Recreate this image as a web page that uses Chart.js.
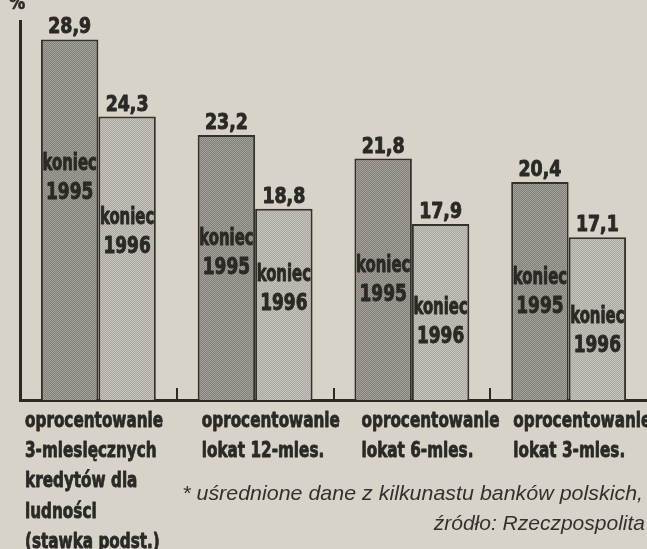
<!DOCTYPE html>
<html>
<head>
<meta charset="utf-8">
<script src="https://cdn.jsdelivr.net/npm/chart.js@4"></script>
<style>
html,body{margin:0;padding:0;background:#d7d3c9;}
#wrap{width:647px;height:549px;}
</style>
</head>
<body>
<div id="wrap"><canvas id="c" width="647" height="549"></canvas></div>
<script>
const categories = [
  ["oprocentowanie","3-miesięcznych","kredytów dla","ludności","(stawka podst.)"],
  ["oprocentowanie","lokat 12-mies."],
  ["oprocentowanie","lokat 6-mies."],
  ["oprocentowanie","lokat 3-mies."]
];
const seriesNames = ["koniec 1995","koniec 1996"];
const values1995 = [28.9, 23.2, 21.8, 20.4];
const values1996 = [24.3, 18.8, 17.9, 17.1];
const unitLabel = "%";
const footnote = ["* uśrednione dane z kilkunastu banków polskich,", "źródło: Rzeczpospolita"];

const COND = "'DejaVu Sans Condensed','Liberation Sans Narrow','DejaVu Sans',sans-serif";
const INK = '#2b2926';

function makePattern(c1, c2){
  const p = document.createElement('canvas');
  p.width = 2; p.height = 2;
  const g = p.getContext('2d');
  g.fillStyle = c1; g.fillRect(0,0,2,2);
  g.fillStyle = c2; g.fillRect(0,0,1,1); g.fillRect(1,1,1,1);
  return g.createPattern(p, 'repeat');
}
const darkFill = makePattern('#83807a', '#a3a099');
const lightFill = makePattern('#aaa7a0', '#c7c4bd');

// draw text squeezed horizontally, optionally emboldened with a stroke
function squeezed(ctx, text, x, y, sx, align, heavy){
  ctx.save();
  ctx.translate(x, y);
  ctx.scale(sx, 1);
  ctx.textAlign = align;
  ctx.fillText(text, 0, 0);
  if (heavy){
    ctx.strokeStyle = ctx.fillStyle;
    ctx.lineWidth = heavy;
    ctx.lineJoin = 'round';
    ctx.strokeText(text, 0, 0);
  }
  ctx.restore();
}

const deco = {
  id: 'deco',
  beforeDraw(chart){
    const ctx = chart.ctx;
    ctx.save();
    ctx.fillStyle = '#d7d3c9';
    ctx.fillRect(0,0,chart.width,chart.height);
    ctx.restore();
  },
  afterDatasetsDraw(chart, args, opts){
    const ctx = chart.ctx;
    const x = chart.scales.x;
    const area = chart.chartArea;
    ctx.save();
    // inner tick marks between categories
    ctx.strokeStyle = INK; ctx.lineWidth = 2;
    for (let i = 0; i < categories.length - 1; i++){
      const px = Math.round((x.getPixelForValue(i) + x.getPixelForValue(i+1)) / 2);
      ctx.beginPath(); ctx.moveTo(px, area.bottom); ctx.lineTo(px, area.bottom - 12); ctx.stroke();
    }
    // value labels and inside labels
    ctx.fillStyle = INK;
    chart.data.datasets.forEach((ds, di) => {
      const meta = chart.getDatasetMeta(di);
      const [w1, w2] = seriesNames[di].split(' ');
      meta.data.forEach((bar, i) => {
        ctx.textBaseline = 'alphabetic';
        ctx.font = `bold 21px ${COND}`;
        squeezed(ctx, String(ds.data[i]).replace('.', ','), bar.x, bar.y - 6, 0.92, 'center', 0.9);
        const cy = bar.y + opts.inside[di][i];
        ctx.textBaseline = 'middle';
        ctx.font = `bold 23px ${COND}`;
        squeezed(ctx, w1, bar.x, cy - 14, 0.72, 'center', 0.9);
        squeezed(ctx, w2, bar.x, cy + 15, 0.82, 'center', 0.9);
      });
    });
    // category labels along the x axis
    ctx.font = `bold 22px ${COND}`;
    ctx.textBaseline = 'middle';
    const step = x.getPixelForValue(1) - x.getPixelForValue(0);
    categories.forEach((lines, i) => {
      const lx = x.getPixelForValue(i) - step / 2 + opts.labelInset[i];
      lines.forEach((ln, k) => squeezed(ctx, ln, lx, area.bottom + 21 + k * 30.3, 0.77, 'left', 0.8));
    });
    // unit
    ctx.font = `bold 20px ${COND}`;
    ctx.textBaseline = 'alphabetic';
    squeezed(ctx, unitLabel, area.left - 3, 9, 0.9, 'center', 0.6);
    // footnote
    ctx.font = "italic 21px 'Liberation Sans',Arial,sans-serif";
    ctx.fillStyle = '#33312d';
    ctx.textBaseline = 'middle';
    squeezed(ctx, footnote[0], chart.width - 4, 494, 1.02, 'right');
    squeezed(ctx, footnote[1], chart.width - 2, 524, 1.0, 'right');
    ctx.restore();
  }
};

new Chart(document.getElementById('c'), {
  type: 'bar',
  data: {
    labels: categories,
    datasets: [
      { label: seriesNames[0], data: values1995, backgroundColor: darkFill, borderColor: '#34312d', borderWidth: 2 },
      { label: seriesNames[1], data: values1996, backgroundColor: lightFill, borderColor: '#34312d', borderWidth: 2 }
    ]
  },
  options: {
    responsive: false,
    animation: false,
    events: [],
    layout: { padding: { left: 20, top: 21, right: 0, bottom: 0 } },
    datasets: { bar: { categoryPercentage: 0.733, barPercentage: 1 } },
    plugins: {
      legend: { display: false },
      tooltip: { enabled: false },
      deco: {
        inside: [[139, 118, 122, 110], [115, 80, 98, 94]],
        labelInset: [5, 25, 28, 23]
      }
    },
    scales: {
      x: {
        grid: { display: false, drawTicks: false },
        border: { display: true, color: INK, width: 3 },
        ticks: { display: false },
        afterFit(scale){ scale.height = 149; }
      },
      y: {
        min: 7.4, max: 30,
        grid: { display: false, drawTicks: false },
        border: { display: true, color: INK, width: 3 },
        ticks: { display: false },
        afterFit(scale){ scale.width = 0; }
      }
    }
  },
  plugins: [deco]
});
</script>
</body>
</html>
